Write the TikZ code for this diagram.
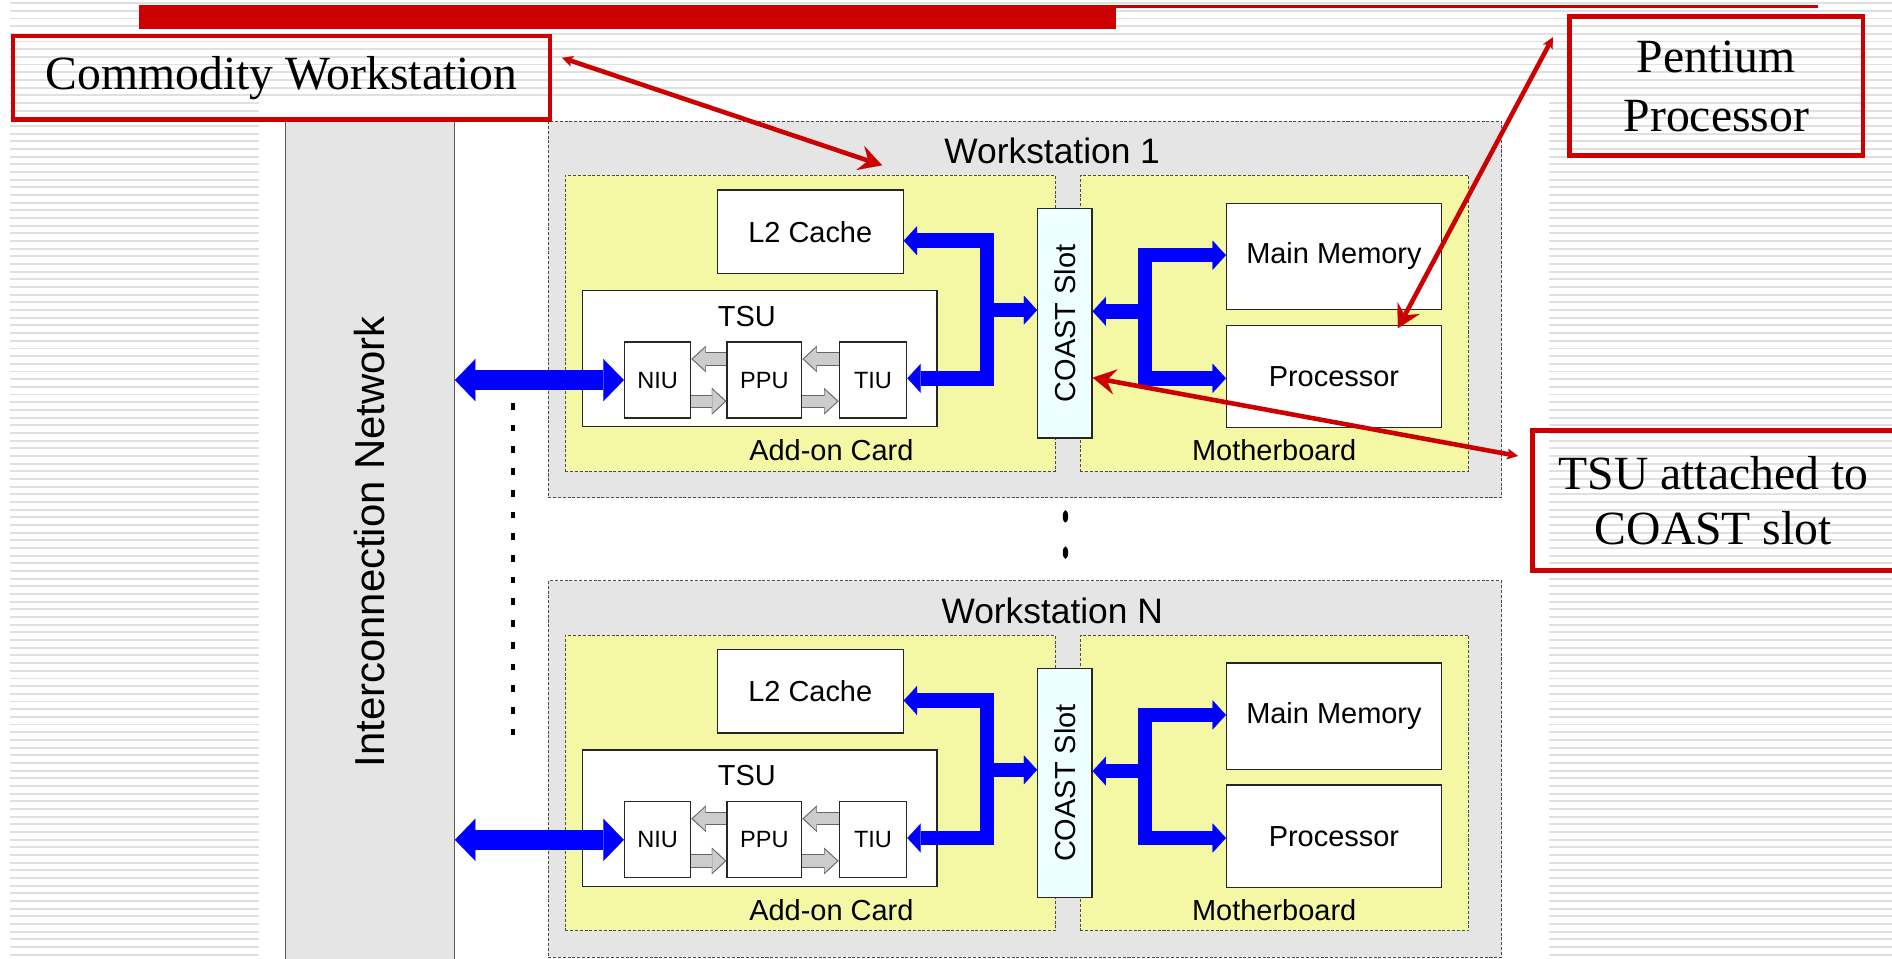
\documentclass[tikz,border=0pt]{standalone}
\usepackage{fontspec}
\setmainfont{Liberation Serif}
\setsansfont{Liberation Sans}
\usepackage{xcolor}
\usepackage{tikz}
\usetikzlibrary{arrows.meta,positioning}

\definecolor{slidered}{RGB}{204,0,0}
\definecolor{boxgrey}{RGB}{229,229,229}
\definecolor{cardyellow}{RGB}{244,247,163}
\definecolor{slotcyan}{RGB}{238,255,255}
\definecolor{stripegrey}{RGB}{224,224,224}

\begin{document}
\begin{tikzpicture}[x=1pt,y=-1pt,
    stripe/.style={draw=stripegrey, line width=1.6pt},
    callbox/.style={draw=slidered, line width=3.8pt, inner sep=0pt, align=center, font=\fontsize{39.5}{49}\selectfont},
    callout/.style={draw=slidered, line width=3.8pt,
        {Stealth[length=9pt,width=9pt,inset=2pt,line width=0.1pt]}-{Stealth[length=19pt,width=21pt,inset=7pt,line width=0.1pt]}},
    netbox/.style={draw=black!65, fill=boxgrey, line width=1pt, inner sep=0pt},
    wsbox/.style={draw=black!70, fill=boxgrey, dash pattern=on 2.5pt off 1.5pt, line width=0.8pt, inner sep=0pt},
    cardbox/.style={wsbox, fill=cardyellow},
    unit/.style={draw=black!85, fill=white, line width=1pt, inner sep=0pt, font=\sffamily\fontsize{19.5}{22}\selectfont},
    bigunit/.style={unit, font=\sffamily\fontsize{24}{28}\selectfont},
    slot/.style={unit, fill=slotcyan},
    lbl/.style={inner sep=0pt, font=\sffamily\fontsize{24}{28}\selectfont},
    wstitle/.style={inner sep=0pt, font=\sffamily\fontsize{29.3}{34}\selectfont},
    bus/.style={draw=blue, line width=12pt, >={Triangle[length=11pt,width=24pt,line width=0.1pt]}},
    netbus/.style={draw=blue, line width=17pt,
        {Triangle[length=17pt,width=35pt,line width=0.1pt]}-{Triangle[length=17pt,width=35pt,line width=0.1pt]}},
    hollow/.style={draw=black!60, line width=11pt, -{Triangle[length=12pt,width=22pt,line width=0.1pt]},
        postaction={draw=black!20, line width=9.4pt, shorten >=1.4pt, -{Triangle[length=10.2pt,width=19pt,line width=0.1pt]}}},
    dotline/.style={line width=3pt, dash pattern=on 5.5pt off 12.5pt},
]
\useasboundingbox (0,0) rectangle (1568,794);
\clip (0,0) rectangle (1568,794);
\fill[white] (0,0) rectangle (1568,794);

% slide background
\foreach \k in {0,...,124}
    \draw[stripe] (8,{2.6+6.36*\k}) -- (1568,{2.6+6.36*\k});
\fill[white] (215,80) rectangle (1284,794);
\fill[slidered] (115,4) rectangle (925,24);
\draw[slidered, line width=2pt] (925,5.5) -- (1507,5.5);

% interconnection network
\node[netbox, minimum width=140, minimum height=720, anchor=north west] (net) at (236,100) {};
\node[rotate=90, inner sep=0pt, font=\sffamily\fontsize{34.7}{40}\selectfont] (netlbl) at (306,449) {Interconnection Network};
\draw[dotline] (425,334) -- (425,612);

% workstations
\foreach \n/\dy in {1/0,N/381}{
\begin{scope}[shift={(0,\dy)}]
    \node[wsbox, minimum width=790, minimum height=312, anchor=north west] (ws\n) at (454,100) {};
    \node[wstitle] (wt\n) at (872,125) {Workstation \n};
    \node[cardbox, minimum width=406, minimum height=245, anchor=north west] (card\n) at (468,145) {};
    \node[cardbox, minimum width=322, minimum height=245, anchor=north west] (mobo\n) at (895,145) {};
    \node[lbl] (cardlbl\n) at (689,373) {Add-on Card};
    \node[lbl] (mobolbl\n) at (1056,373) {Motherboard};

    \node[bigunit, minimum width=154, minimum height=69, anchor=north west] (l2\n) at (594,157) {L2 Cache};
    \node[bigunit, minimum width=294, minimum height=113, anchor=north west] (tsu\n) at (482,240) {};
    \node[lbl] (tsulbl\n) at (619,262) {TSU};
    \node[unit, minimum width=55, minimum height=63, anchor=north west] (niu\n) at (517,283) {NIU};
    \node[unit, minimum width=62, minimum height=63, right=29pt of niu\n] (ppu\n) {PPU};
    \node[unit, minimum width=56, minimum height=63, right=30pt of ppu\n] (tiu\n) {TIU};

    \node[slot, minimum width=45, minimum height=190] (coast\n) at (882.5,268) {};
    \node[rotate=90, inner sep=0pt, font=\sffamily\fontsize{24}{28}\selectfont] at (coast\n) {COAST Slot};
    \node[bigunit, minimum width=178, minimum height=88, anchor=north west] (mem\n) at (1016,168) {Main Memory};
    \node[bigunit, minimum width=178, minimum height=85, below=12pt of mem\n] (proc\n) {Processor};

    % buses
    \coordinate (lb\n) at (818,257);
    \coordinate (rb\n) at (949,258);
    \draw[bus,<-] ([shift={(0,7.5)}]l2\n.east) -| (lb\n);
    \draw[bus,<-] ([shift={(0,-1.5)}]tiu\n.east) -| (lb\n);
    \draw[bus,->] (lb\n) -- (lb\n -| coast\n.west);
    \draw[bus,->] (rb\n) |- ([shift={(0,-1)}]mem\n.west);
    \draw[bus,->] (rb\n) |- ([shift={(0,1.5)}]proc\n.west);
    \draw[bus,->] (rb\n) -- (rb\n -| coast\n.east);
    \draw[netbus] (net.east |- niu\n.west) -- (niu\n.west);

    % TSU internals
    \draw[hollow] ([shift={(0,-17.5)}]ppu\n.west) -- ([shift={(0,-17.5)}]niu\n.east);
    \draw[hollow] ([shift={(0,17.5)}]niu\n.east) -- ([shift={(0,17.5)}]ppu\n.west);
    \draw[hollow] ([shift={(0,-17.5)}]tiu\n.west) -- ([shift={(0,-17.5)}]ppu\n.east);
    \draw[hollow] ([shift={(0,17.5)}]ppu\n.east) -- ([shift={(0,17.5)}]tiu\n.west);
\end{scope}
}
\fill (883,428) ellipse (2.2 and 5.2);
\fill (883,458) ellipse (2.2 and 5.2);

% call-outs
\node[callbox, minimum width=445, minimum height=69, anchor=north west] (commodity) at (9,28) {Commodity Workstation};
\node[callbox, minimum width=243, minimum height=115, anchor=north west] (pentium) at (1299,12) {Pentium\\Processor};
\node[callbox, font=\fontsize{39.5}{45}\selectfont, minimum width=300, minimum height=116, anchor=north west] (tsunote) at (1268,355) {TSU attached to\\COAST slot};
\draw[callout] ([shift={(8,-16.5)}]commodity.east) -- ([shift={(277,37)}]ws1.north west);
\draw[callout] ([shift={(-12,-40.5)}]pentium.west) -- ([shift={(53,3)}]proc1.north);
\draw[callout] ([shift={(-10,-37)}]tsunote.west) -- ([shift={(0,45)}]coast1.east);
\end{tikzpicture}
\end{document}
